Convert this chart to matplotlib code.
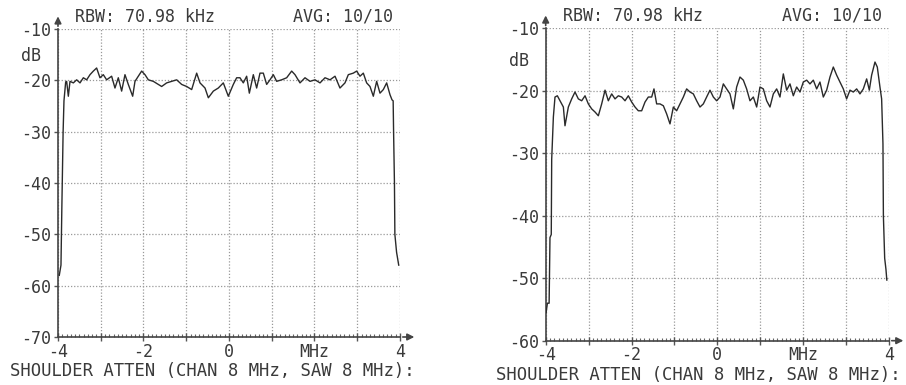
import matplotlib.pyplot as plt
from matplotlib.ticker import MultipleLocator

# trace (MHz, dB)
left_mhz = [-3.97, -3.93, -3.91, -3.88, -3.86, -3.82,
            -3.797, -3.758, -3.719, -3.641, -3.563, -3.485, -3.407, -3.329, -3.251, -3.173,
            -3.096, -3.018, -2.940, -2.862, -2.745, -2.667, -2.589, -2.511, -2.433, -2.355,
            -2.253, -2.199, -2.121, -2.043, -1.965, -1.887, -1.770, -1.653, -1.575, -1.458,
            -1.341, -1.224, -1.107, -0.990, -0.873, -0.756, -0.678, -0.561, -0.483, -0.366,
            -0.250, -0.133, -0.016, 0.101, 0.179, 0.257, 0.335, 0.413, 0.476, 0.569,
            0.647, 0.725, 0.803, 0.881, 0.959, 1.037, 1.115, 1.232, 1.349, 1.466,
            1.544, 1.661, 1.778, 1.895, 2.012, 2.129, 2.246, 2.363, 2.480, 2.596,
            2.713, 2.791, 2.908, 2.986, 3.064, 3.142, 3.220, 3.298, 3.376, 3.454,
            3.532, 3.610, 3.688, 3.766, 3.813,
            3.84, 3.85, 3.87, 3.88, 3.92, 3.97]
left_db = [-58.0, -56.0, -45.0, -30.0, -24.0, -20.3,
           -20.2, -23.1, -20.2, -20.5, -19.9, -20.5, -19.5, -19.9, -18.9, -18.2,
           -17.6, -19.5, -18.9, -19.9, -19.2, -21.5, -19.5, -22.1, -18.9, -20.8,
           -23.1, -20.2, -19.2, -18.2, -18.9, -19.9, -20.2, -20.8, -21.2, -20.5,
           -20.2, -19.9, -20.8, -21.2, -21.8, -18.6, -20.5, -21.5, -23.4, -22.1,
           -21.5, -20.5, -23.1, -20.8, -19.5, -19.5, -20.5, -19.2, -22.5, -18.9,
           -21.5, -18.6, -18.6, -20.8, -19.9, -18.9, -20.2, -19.9, -19.5, -18.2,
           -18.9, -20.5, -19.5, -20.2, -19.9, -20.5, -19.5, -19.9, -19.2, -21.5,
           -20.5, -18.9, -18.6, -18.2, -19.2, -18.6, -20.5, -21.2, -23.1, -20.2,
           -22.5, -21.8, -20.5, -22.8, -23.8,
           -24.0, -30.0, -40.0, -50.0, -53.5, -56.0]

right_mhz = [-3.99, -3.96, -3.92, -3.90, -3.87, -3.86,
             -3.821, -3.783, -3.728, -3.666, -3.588, -3.550, -3.472, -3.394, -3.317, -3.239,
             -3.161, -3.083, -3.006, -2.928, -2.850, -2.773, -2.695, -2.617, -2.540, -2.462,
             -2.384, -2.307, -2.229, -2.151, -2.074, -1.996, -1.918, -1.841, -1.763, -1.685,
             -1.608, -1.530, -1.476, -1.414, -1.336, -1.258, -1.181, -1.103, -1.025, -0.948,
             -0.870, -0.792, -0.715, -0.637, -0.559, -0.482, -0.404, -0.326, -0.249, -0.171,
             -0.093, -0.016, 0.062, 0.140, 0.217, 0.295, 0.373, 0.450, 0.528, 0.606,
             0.683, 0.761, 0.839, 0.917, 0.994, 1.072, 1.150, 1.227, 1.305, 1.383,
             1.460, 1.538, 1.616, 1.693, 1.771, 1.849, 1.926, 2.004, 2.082, 2.159,
             2.237, 2.315, 2.392, 2.470, 2.548, 2.625, 2.703, 2.781, 2.858, 2.936,
             3.013, 3.091, 3.169, 3.247, 3.324, 3.402, 3.480, 3.542, 3.596, 3.674,
             3.728, 3.790, 3.829,
             3.86, 3.87, 3.90, 3.93, 3.95]
right_db = [-55.5, -54.0, -54.0, -43.5, -43.0, -31.0,
            -24.2, -21.0, -20.8, -21.6, -22.6, -25.6, -22.6, -21.3, -20.2, -21.3,
            -21.6, -20.8, -22.1, -22.9, -23.4, -24.0, -22.1, -19.9, -21.6, -20.5,
            -21.3, -20.8, -21.0, -21.6, -20.8, -21.8, -22.6, -23.2, -23.2, -21.8,
            -21.0, -21.0, -19.7, -22.1, -22.1, -22.4, -23.7, -25.3, -22.6, -23.2,
            -22.1, -21.0, -19.7, -20.2, -20.5, -21.6, -22.6, -22.1, -21.0, -19.9,
            -21.0, -21.6, -21.0, -18.9, -19.7, -20.5, -22.9, -19.4, -17.8, -18.3,
            -19.7, -21.6, -21.0, -22.6, -19.4, -19.7, -21.6, -22.6, -20.5, -19.7,
            -21.0, -17.3, -19.9, -18.9, -20.8, -19.4, -20.2, -18.6, -18.3, -18.9,
            -18.3, -19.7, -18.6, -21.0, -19.9, -17.8, -16.2, -17.5, -18.6, -19.7,
            -21.3, -19.9, -20.2, -19.7, -20.5, -19.7, -18.1, -19.9, -17.5, -15.4,
            -16.2, -19.4, -21.3,
            -28.5, -40.0, -46.8, -48.6, -50.3]

x_ticks = [-4, -3, -2, -1, 0, 1, 2, 3, 4]
x_labels = ["-4", "", "-2", "", "0", "", "MHz", "", "4"]
left_yticks = [-70, -60, -50, -40, -30, -20, -10]
right_yticks = [-60, -50, -40, -30, -20, -10]

header_left = "RBW: 70.98 kHz"
header_right = "AVG: 10/10"
footer = "SHOULDER ATTEN (CHAN 8 MHz, SAW 8 MHz):"

fnt = "DejaVu Sans Mono"
fs = 12
ink = "#2a2a2a"
txt = "#3a3a3a"

fig = plt.figure(figsize=(9.06, 3.85), dpi=100)
ax1 = fig.add_axes([0.0640, 0.1247, 0.3775, 0.8000])
ax2 = fig.add_axes([0.6023, 0.1151, 0.3789, 0.8114])

panels = [
    (ax1, left_mhz, left_db, left_yticks, 10, 371),
    (ax2, right_mhz, right_db, right_yticks, 496, 375),
]

for ax, xs, ys, yt, foot_x, foot_y in panels:
    ax.plot(xs, ys, color=ink, lw=1.0, zorder=3)
    ax.set_xlim(-4, 4)
    ax.set_ylim(yt[0], yt[-1])

    ax.set_xticks(x_ticks)
    ax.set_xticklabels(x_labels, fontfamily=fnt, fontsize=fs, color=txt)
    ax.xaxis.set_minor_locator(MultipleLocator(0.1))
    ax.set_yticks(yt)
    ax.set_yticklabels([str(v) for v in yt], fontfamily=fnt, fontsize=fs, color=txt)
    ax.tick_params(axis="x", which="major", direction="inout", length=6, width=1, color="#555", pad=1)
    ax.tick_params(axis="x", which="minor", direction="in", length=2, width=0.8, color="#666")
    ax.tick_params(axis="y", which="major", direction="out", length=3, width=1, color="#555", pad=2)

    ax.grid(True, which="major", linestyle=(0, (1, 1.5)), color="#999999", lw=0.9)
    for s in ["top", "right"]:
        ax.spines[s].set_visible(False)
    for s in ["left", "bottom"]:
        ax.spines[s].set_color("#444")
        ax.spines[s].set_linewidth(1.2)

    # axis arrows
    ax.annotate("", xy=(0, 1.05), xytext=(0, 1.0), xycoords="axes fraction",
                arrowprops=dict(arrowstyle="-|>", color="#444", lw=1.2, mutation_scale=10))
    ax.annotate("", xy=(1.05, 0), xytext=(1.0, 0), xycoords="axes fraction",
                arrowprops=dict(arrowstyle="-|>", color="#444", lw=1.2, mutation_scale=10))

    ax.text(-0.05, -15.2, "dB", transform=ax.get_yaxis_transform(), ha="right", va="center",
            fontfamily=fnt, fontsize=fs, color=txt)
    ax.text(0.05, 1.04, header_left, transform=ax.transAxes, ha="left", va="center",
            fontfamily=fnt, fontsize=fs, color=txt)
    ax.text(0.98, 1.04, header_right, transform=ax.transAxes, ha="right", va="center",
            fontfamily=fnt, fontsize=fs, color=txt)
    fig.text(foot_x / 906, 1 - foot_y / 385, footer, ha="left", va="center",
             fontfamily=fnt, fontsize=12.4, color=txt)

fig.savefig("out.png", dpi=100)
